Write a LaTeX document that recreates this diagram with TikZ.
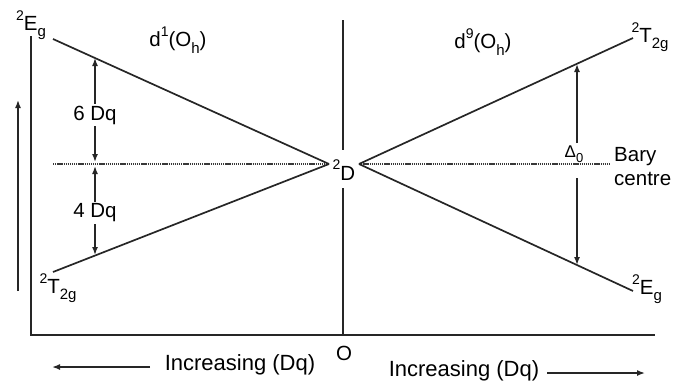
\documentclass[tikz,border=0pt]{standalone}
\usepackage{fontspec}
\setmainfont{Liberation Sans}
\usetikzlibrary{arrows.meta}
\newcommand{\supx}[1]{\raisebox{0.5em}{\fontsize{14}{14}\selectfont #1}}
\newcommand{\subx}[1]{\raisebox{-0.3em}{\fontsize{15}{15}\selectfont #1}}
\begin{document}
\begin{tikzpicture}[x=1pt,y=-1pt,
  lbl/.style={inner sep=0pt, font=\fontsize{20.5}{24}\selectfont},
  axisline/.style={line width=1.9pt, draw=black!85},
  lvl/.style={line width=1.7pt, draw=black!85},
  arr/.style={line width=1.5pt, draw=black!85, -{Latex[length=8pt,width=6pt]}},
  dbl/.style={line width=1.5pt, draw=black!85, {Latex[length=8pt,width=6pt]}-{Latex[length=8pt,width=6pt]}},
  bary/.style={line width=2.6pt, draw=black!78, dash pattern=on 1.3pt off 0.8pt}]
\useasboundingbox (0,0) rectangle (679,380);
% key points
\coordinate (EgL) at (53,39);
\coordinate (TgL) at (53,272);
\coordinate (CL) at (329,164);
\coordinate (CR) at (359,164);
\coordinate (TgR) at (633,38);
\coordinate (EgR) at (633,291);
\coordinate (axT) at (31,36);
\coordinate (axO) at (31,335);
\coordinate (axR) at (655,335);
\coordinate (vT) at (343,20);
\coordinate (gapT) at (343,150);
\coordinate (gapB) at (343,188);
\coordinate (vB) at (343,335);
\coordinate (baryL) at (53,164);
\coordinate (baryR) at (610,164);
% axes
\draw[axisline] (axT) -- (axO) -- (axR);
\draw[axisline] (vT) -- (gapT);
\draw[axisline] (gapB) -- (vB);
% barycentre
\draw[bary] (baryL) -- (CL);
\draw[bary] (CR) -- (baryR);
% levels
\draw[lvl] (EgL) -- (CL);
\draw[lvl] (TgL) -- (CL);
\draw[lvl] (CR) -- (TgR);
\draw[lvl] (CR) -- (EgR);
% splitting arrows (left)
\coordinate (a6t) at (95,58);
\coordinate (a6b) at (95,162);
\coordinate (a4t) at (95,166);
\coordinate (a4b) at (95,255);
\draw[dbl] (a6b) -- (a6t);
\draw[dbl] (a4t) -- (a4b);
\node[lbl, fill=white, inner sep=2pt] (six) at (95,115) {6 Dq};
\node[lbl, fill=white, inner sep=2pt] (four) at (95,213) {4 Dq};
% Delta arrow (right)
\coordinate (d0t) at (577,64);
\coordinate (d0m1) at (577,143);
\coordinate (d0m2) at (577,178);
\coordinate (d0b) at (577,265);
\draw[arr] (d0m1) -- (d0t);
\draw[arr] (d0m2) -- (d0b);
\node[lbl, font=\fontsize{17}{20}\selectfont] (delta) at (574,154) {Δ\raisebox{-0.3em}{\fontsize{13}{13}\selectfont 0}};
% energy arrow
\coordinate (ua1) at (18,291);
\coordinate (ua2) at (18,100);
\draw[arr] (ua1) -- (ua2);
% labels
\node[lbl] (lEg) at (31,25) {\supx{2}E\subx{g}};
\node[lbl] (lTg) at (58,288) {\supx{2}T\subx{2g}};
\node[lbl] (d1) at (178,40) {d\supx{1}(O\subx{h})};
\node[lbl] (d9) at (483,42) {d\supx{9}(O\subx{h})};
\node[lbl] (rTg) at (650,37) {\supx{2}T\subx{2g}};
\node[lbl] (rEg) at (647,289) {\supx{2}E\subx{g}};
\node[lbl] (D) at (344,170) {\supx{2}D};
\node[lbl, align=left, anchor=west] (bc) at (614,167) {Bary\\centre};
\node[lbl] (O) at (344,353) {O};
\node[lbl, font=\fontsize{22}{26}\selectfont] (incL) at (240,365) {Increasing (Dq)};
\node[lbl, font=\fontsize{22}{26}\selectfont] (incR) at (464,371) {Increasing (Dq)};
\coordinate (bl1) at (150,367);
\coordinate (bl2) at (52,367);
\coordinate (br1) at (547,373);
\coordinate (br2) at (645,373);
\draw[arr] (bl1) -- (bl2);
\draw[arr] (br1) -- (br2);
\end{tikzpicture}
\end{document}
